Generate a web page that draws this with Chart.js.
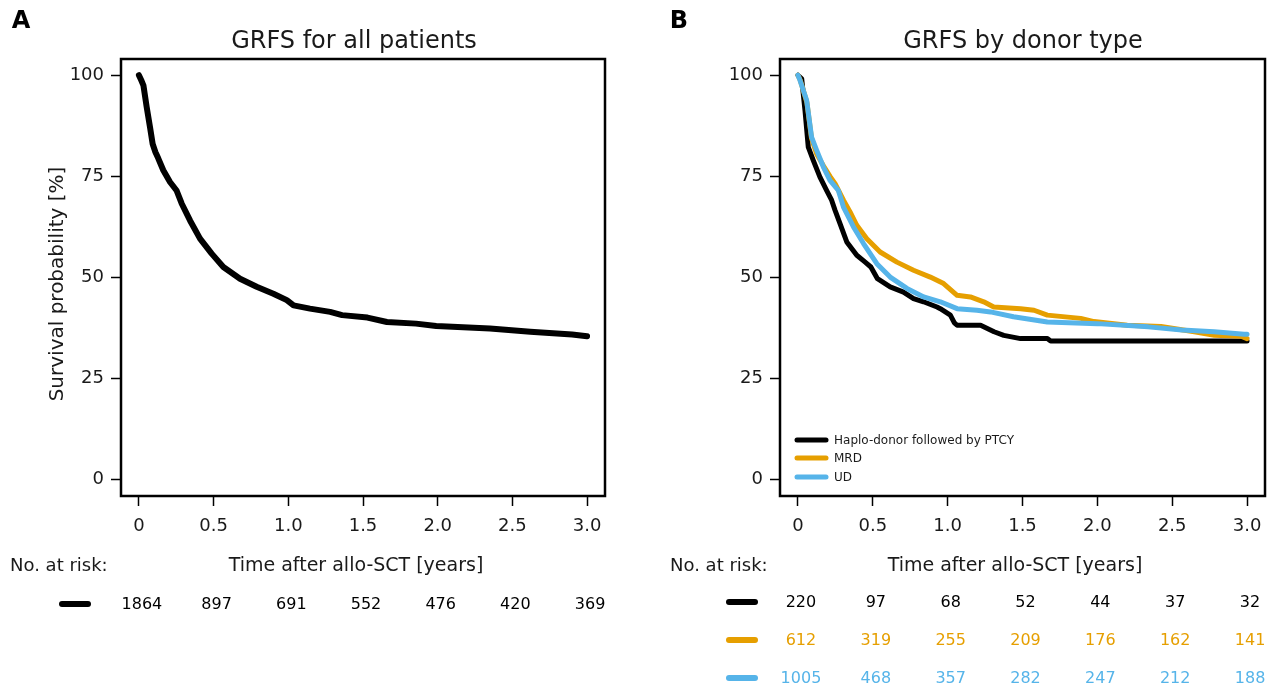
<!DOCTYPE html>
<html>
<head>
<meta charset="utf-8">
<script src="https://cdn.jsdelivr.net/npm/chart.js@4.4.1/dist/chart.umd.min.js"></script>
<style>
html, body { margin: 0; padding: 0; background: #fff; }
#wrap { position: relative; width: 1274px; height: 688px; overflow: hidden; }
canvas { position: absolute; top: 0; }
#panelA { left: 0; }
#panelB { left: 640px; }
</style>
</head>
<body>
<div id="wrap">
  <canvas id="panelA" width="640" height="688"></canvas>
  <canvas id="panelB" width="634" height="688"></canvas>
</div>
<script>
// Kaplan-Meier GRFS curves (time in years, survival in %)
const timesAll = [0, 0.015, 0.03, 0.052, 0.074, 0.092, 0.11, 0.13, 0.163, 0.208, 0.252, 0.286, 0.342, 0.409, 0.487, 0.565, 0.677, 0.788, 0.9, 0.99, 1.035, 1.145, 1.28, 1.36, 1.53, 1.66, 1.855, 1.99, 2.35, 2.62, 2.9, 3.0];
const survAll  = [100, 98.8, 97.5, 92.1, 87.2, 83.0, 81.0, 79.4, 76.5, 73.6, 71.5, 68.3, 64.1, 59.6, 55.9, 52.6, 49.7, 47.7, 46.0, 44.4, 43.1, 42.3, 41.5, 40.7, 40.1, 39.0, 38.6, 38.0, 37.4, 36.6, 35.9, 35.5];

const timesHaplo = [0, 0.025, 0.047, 0.069, 0.103, 0.147, 0.192, 0.225, 0.248, 0.281, 0.326, 0.393, 0.449, 0.487, 0.531, 0.616, 0.705, 0.772, 0.839, 0.929, 0.951, 1.018, 1.045, 1.063, 1.22, 1.31, 1.375, 1.487, 1.666, 1.688, 3.0];
const survHaplo  = [100, 99.1, 91.3, 82.2, 78.9, 74.8, 71.5, 69.1, 66.6, 63.3, 58.8, 55.5, 53.8, 52.6, 49.7, 47.7, 46.4, 44.8, 44.0, 42.7, 42.3, 40.7, 38.8, 38.2, 38.2, 36.6, 35.7, 34.9, 34.9, 34.3, 34.3];

const timesMRD = [0, 0.015, 0.06, 0.09, 0.125, 0.17, 0.214, 0.248, 0.304, 0.348, 0.393, 0.46, 0.549, 0.661, 0.772, 0.884, 0.973, 1.063, 1.152, 1.241, 1.308, 1.487, 1.577, 1.666, 1.889, 1.978, 2.2, 2.425, 2.648, 2.782, 2.96, 3.0];
const survMRD  = [100, 98.8, 93.2, 84.5, 80.5, 77.6, 75.0, 73.2, 69.1, 66.2, 62.9, 59.6, 56.3, 53.8, 51.8, 50.1, 48.5, 45.6, 45.2, 44.0, 42.7, 42.3, 41.9, 40.7, 39.9, 39.1, 38.2, 37.9, 36.6, 35.7, 35.5, 34.9];

const timesUD = [0, 0.01, 0.058, 0.091, 0.125, 0.17, 0.214, 0.27, 0.304, 0.371, 0.438, 0.527, 0.616, 0.728, 0.84, 0.951, 1.063, 1.196, 1.286, 1.44, 1.666, 2.0, 2.34, 2.565, 2.78, 2.98, 3.0];
const survUD  = [100, 99.1, 93.8, 84.7, 81.4, 77.3, 74.0, 71.5, 67.4, 62.5, 58.4, 53.4, 50.1, 47.3, 45.2, 44.0, 42.3, 41.9, 41.5, 40.3, 39.0, 38.6, 37.8, 37.0, 36.6, 36.0, 36.0];

// numbers at risk at each half-year
const riskTimes = [0, 0.5, 1.0, 1.5, 2.0, 2.5, 3.0];
const riskAll   = [1864, 897, 691, 552, 476, 420, 369];
const riskHaplo = [220, 97, 68, 52, 44, 37, 32];
const riskMRD   = [612, 319, 255, 209, 176, 162, 141];
const riskUD    = [1005, 468, 357, 282, 247, 212, 188];

const groupLabels = ["Haplo-donor followed by PTCY", "MRD", "UD"];
const colors = { black: "#000000", orange: "#E69F00", blue: "#56B4E9" };

Chart.defaults.font.family = "'DejaVu Sans', 'Liberation Sans', sans-serif";
Chart.defaults.color = "#1a1a1a";

const toPoints = (xs, ys) => xs.map((x, i) => ({ x: x, y: ys[i] }));

// text, frame, legend and risk table around each panel
const panelText = {
  panelA: {
    letter: { text: "A", x: 21 },
    title: { text: "GRFS for all patients", x: 354 },
    yTitle: { text: "Survival probability [%]", x: 58, y: 284 },
    xTitle: { x: 356 },
    riskLeft: 10,
    symbol: [62, 88],
    rows: [{ values: riskAll, color: colors.black, y: 605 }]
  },
  panelB: {
    letter: { text: "B", x: 39 },
    title: { text: "GRFS by donor type", x: 383 },
    xTitle: { x: 375 },
    riskLeft: 30,
    symbol: [89, 115],
    rows: [
      { values: riskHaplo, color: colors.black, y: 603 },
      { values: riskMRD, color: colors.orange, y: 641 },
      { values: riskUD, color: colors.blue, y: 679 }
    ],
    legend: { x1: 157, x2: 186, tx: 194, ys: [440, 458, 477] }
  }
};

const hLine = (ctx, x1, x2, y, color, width) => {
  ctx.save();
  ctx.strokeStyle = color;
  ctx.lineWidth = width;
  ctx.lineCap = "round";
  ctx.beginPath();
  ctx.moveTo(x1, y);
  ctx.lineTo(x2, y);
  ctx.stroke();
  ctx.restore();
};

const kmText = {
  id: "kmText",
  afterDraw(chart) {
    const cfg = panelText[chart.canvas.id];
    const ctx = chart.ctx;
    const area = chart.chartArea;
    const xs = chart.scales.x;
    const family = Chart.defaults.font.family;

    // plot frame
    ctx.save();
    ctx.strokeStyle = "#000";
    ctx.lineWidth = 2.5;
    ctx.strokeRect(area.left, area.top, area.right - area.left, area.bottom - area.top);
    ctx.restore();

    ctx.save();
    ctx.fillStyle = "#000";
    ctx.textBaseline = "middle";

    ctx.textAlign = "center";
    ctx.font = "bold 24px " + family;
    ctx.fillText(cfg.letter.text, cfg.letter.x, 22);

    ctx.fillStyle = "#1a1a1a";
    ctx.font = "24px " + family;
    ctx.fillText(cfg.title.text, cfg.title.x, 42);

    ctx.font = "19px " + family;
    ctx.fillText("Time after allo-SCT [years]", cfg.xTitle.x, 566);

    if (cfg.yTitle) {
      ctx.save();
      ctx.translate(cfg.yTitle.x, cfg.yTitle.y);
      ctx.rotate(-Math.PI / 2);
      ctx.font = "20px " + family;
      ctx.fillText(cfg.yTitle.text, 0, 0);
      ctx.restore();
    }

    ctx.textAlign = "left";
    ctx.font = "18px " + family;
    ctx.fillText("No. at risk:", cfg.riskLeft, 566);

    // numbers at risk, centred under the x ticks
    ctx.font = "16px " + family;
    ctx.textAlign = "center";
    cfg.rows.forEach(row => {
      hLine(ctx, cfg.symbol[0], cfg.symbol[1], row.y - 1, row.color, 6);
      ctx.fillStyle = row.color;
      row.values.forEach((n, i) => {
        ctx.fillText(String(n), xs.getPixelForValue(riskTimes[i]) + 3, row.y);
      });
    });

    if (cfg.legend) {
      const lg = cfg.legend;
      ctx.font = "12px " + family;
      ctx.textAlign = "left";
      ctx.fillStyle = "#1a1a1a";
      chart.data.datasets.forEach((ds, i) => {
        hLine(ctx, lg.x1, lg.x2, lg.ys[i], ds.borderColor, 5);
        ctx.fillText(ds.label, lg.tx, lg.ys[i] + 1);
      });
    }
    ctx.restore();
  }
};

const axisGrid = {
  drawOnChartArea: false,
  tickLength: 10,
  tickWidth: 1.5,
  tickColor: "#000"
};

const kmChart = function(elementId, datasets, yAxisWidth, rightPad) {
  new Chart(document.getElementById(elementId), {
    type: "line",
    data: { datasets: datasets },
    options: {
      responsive: false,
      animation: false,
      layout: { padding: { top: 59, right: rightPad, left: 0, bottom: 0 } },
      plugins: { legend: { display: false }, tooltip: { enabled: false } },
      elements: {
        point: { radius: 0 },
        line: { tension: 0, borderCapStyle: "round", borderJoinStyle: "round" }
      },
      scales: {
        x: {
          type: "linear",
          min: -0.12,
          max: 3.12,
          afterFit: s => { s.height = 192; },
          border: { display: false },
          grid: axisGrid,
          ticks: {
            stepSize: 0.5,
            includeBounds: false,
            padding: 10,
            maxRotation: 0,
            autoSkip: false,
            font: { size: 18 },
            callback: v => (v === 0 ? "0" : v.toFixed(1))
          }
        },
        y: {
          min: -4,
          max: 104,
          afterFit: s => { s.width = yAxisWidth; },
          border: { display: false },
          grid: axisGrid,
          ticks: { stepSize: 25, includeBounds: false, padding: 7, font: { size: 18 } }
        }
      }
    },
    plugins: [kmText]
  });
};

kmChart("panelA", [
  { label: "All patients", data: toPoints(timesAll, survAll), borderColor: colors.black, borderWidth: 6 }
], 121, 35);

kmChart("panelB", [
  { label: groupLabels[0], data: toPoints(timesHaplo, survHaplo), borderColor: colors.black, borderWidth: 5, order: 3 },
  { label: groupLabels[1], data: toPoints(timesMRD, survMRD), borderColor: colors.orange, borderWidth: 5, order: 2 },
  { label: groupLabels[2], data: toPoints(timesUD, survUD), borderColor: colors.blue, borderWidth: 5, order: 1 }
], 140, 9);
</script>
</body>
</html>
